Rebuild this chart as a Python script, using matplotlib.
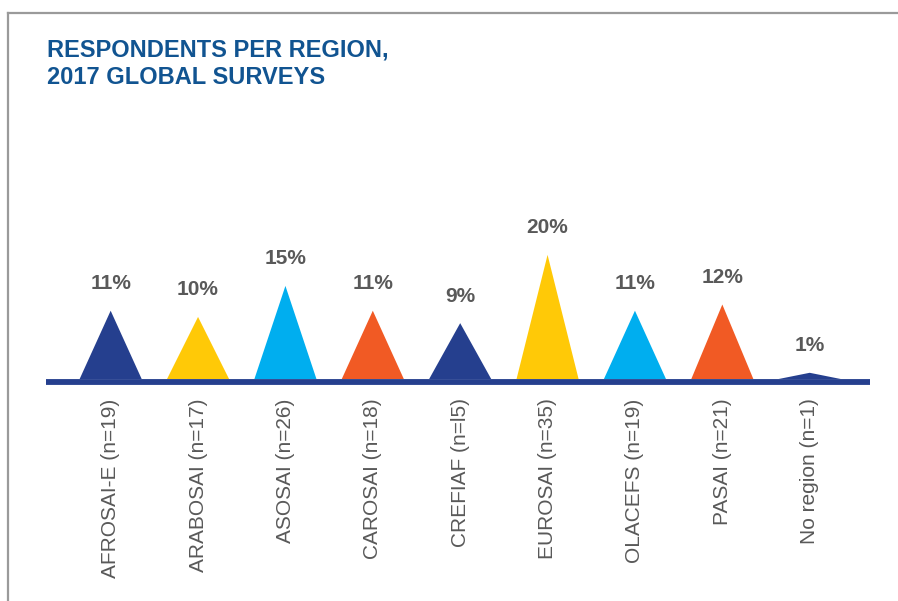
import matplotlib.pyplot as plt
from matplotlib.lines import Line2D
from matplotlib.patches import Polygon

regioes = ["AFROSAI-E (n=19)", "ARABOSAI (n=17)", "ASOSAI (n=26)", "CAROSAI (n=18)",
           "CREFIAF (n=l5)", "EUROSAI (n=35)", "OLACEFS (n=19)", "PASAI (n=21)",
           "No region (n=1)"]
percentuais = [11, 10, 15, 11, 9, 20, 11, 12, 1]
cores = ["#253f8e", "#ffc907", "#00aeef", "#f15a24", "#253f8e",
         "#ffc907", "#00aeef", "#f15a24", "#253f8e"]

plt.rcParams['font.family'] = ['Liberation Sans', 'DejaVu Sans']

fig = plt.figure(figsize=(8.98, 6.01), dpi=100)
ax = fig.add_axes([46 / 898, 222 / 601, 824 / 898, 180 / 601])

# triangulos
meia_base = 0.355
for i, (v, c) in enumerate(zip(percentuais, cores)):
    tri = Polygon([[i - meia_base, 0], [i, v], [i + meia_base, 0]],
                  closed=True, facecolor=c, edgecolor="none")
    ax.add_patch(tri)
    ax.annotate(f"{v}%", xy=(i, v), xytext=(0, 19.5), textcoords="offset points",
                ha="center", va="center", fontsize=15, fontweight="bold",
                color="#595959")

ax.axhline(-0.45, color="#253f8e", lw=4.2, zorder=3, clip_on=False,
           solid_capstyle="butt")

ax.set_xlim(-0.74, 8.69)
ax.set_ylim(0, 29)
ax.set_xticks(range(len(regioes)))
ax.set_xticklabels(regioes, rotation=90, fontsize=15, color="#595959", va="top")
ax.tick_params(axis="x", length=0, pad=14)
ax.set_yticks([])
for s in ax.spines.values():
    s.set_visible(False)
ax.patch.set_alpha(0)

# moldura
fig.add_artist(Line2D([8 / 898, 1], [1 - 13 / 601, 1 - 13 / 601],
                      color="#9a9a9a", lw=1.6, transform=fig.transFigure))
fig.add_artist(Line2D([8 / 898, 8 / 898], [0, 1 - 13 / 601],
                      color="#9a9a9a", lw=1.6, transform=fig.transFigure))

fig.text(47 / 898, 1 - 38 / 601, "RESPONDENTS PER REGION,\n2017 GLOBAL SURVEYS",
         ha="left", va="top", fontsize=17, fontweight="bold", color="#115491",
         linespacing=1.3)

plt.savefig("out.png", dpi=100)
